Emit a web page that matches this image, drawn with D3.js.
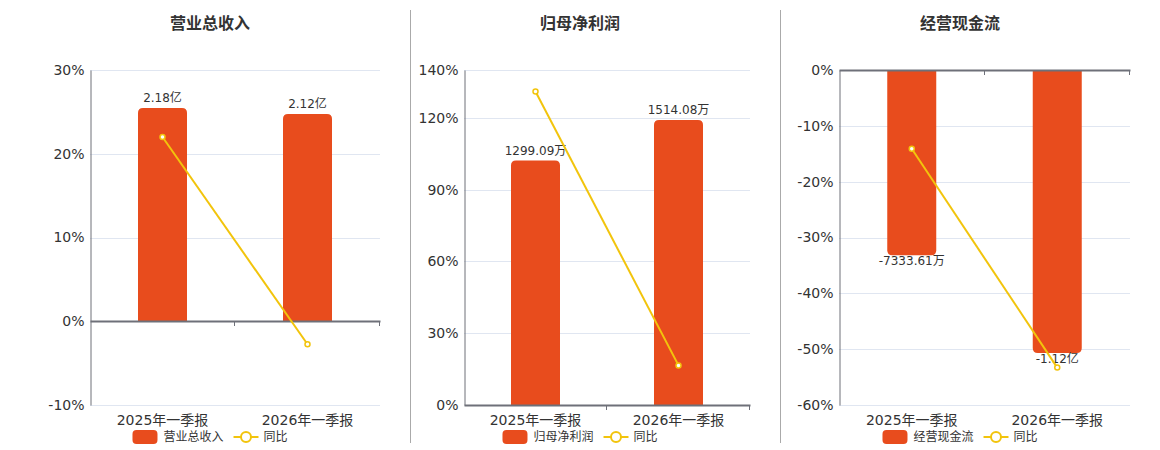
<!DOCTYPE html>
<html>
<head>
<meta charset="utf-8">
<title>季报对比</title>
<script src="https://d3js.org/d3.v7.min.js"></script>
<style>
  body { margin: 0; background: #fff; }
  svg text { font-family: "DejaVu Sans", "Noto Sans CJK SC", sans-serif; }
</style>
</head>
<body>
<div id="chart"></div>
<script>
// categories shared by all three panels
const categories = ["2025年一季报", "2026年一季报"];
const titles = ["营业总收入", "归母净利润", "经营现金流"];
const yoyName = "同比";

// bar values (营业总收入 in 亿, the others in 万) and their labels
const revenueBars = [2.18, 2.12];
const revenueLabels = ["2.18亿", "2.12亿"];
const profitBars = [1299.09, 1514.08];
const profitLabels = ["1299.09万", "1514.08万"];
const cashBars = [-7333.61, -11200];
const cashLabels = ["-7333.61万", "-1.12亿"];

// year-on-year change, percent
const revenueYoy = [22, -2.75];
const profitYoy = [131, 16.55];
const cashYoy = [-14.1, -53.3];

// percent axis ticks
const revenueTicks = [-10, 0, 10, 20, 30];
const profitTicks = [0, 30, 60, 90, 120, 140];
const cashTicks = [-60, -50, -40, -30, -20, -10, 0];

// hidden bar axis ranges (same units as bars)
const revenueBarDomain = [-0.856, 2.569];
const profitBarDomain = [0, 1780];
const cashBarDomain = [-13258, 0];

const W = 1160, H = 450;
const barColor = "#e84c1d";
const lineColor = "#f2c40c";
const textColor = "#333";
const axisColor = "#6e7079";
const gridColor = "#e0e6f1";

const panels = [
  {title: titles[0], bars: revenueBars, labels: revenueLabels, yoy: revenueYoy,
   ticks: revenueTicks, barDomain: revenueBarDomain, left: 90, right: 380, center: 210},
  {title: titles[1], bars: profitBars, labels: profitLabels, yoy: profitYoy,
   ticks: profitTicks, barDomain: profitBarDomain, left: 464, right: 750, center: 580},
  {title: titles[2], bars: cashBars, labels: cashLabels, yoy: cashYoy,
   ticks: cashTicks, barDomain: cashBarDomain, left: 839, right: 1130, center: 960}
];
const plotTop = 70, plotBottom = 405, barW = 49, rad = 5;

const svg = d3.select("#chart").append("svg")
    .attr("width", W).attr("height", H);

// separators between panels
[410.5, 780.5].forEach(x => {
  svg.append("line")
      .attr("x1", x).attr("x2", x).attr("y1", 10).attr("y2", 443)
      .attr("stroke", "#aaa").attr("stroke-width", 1);
});

// bar path with rounded far end
function barPath(x, y0, y1, w, r) {
  const up = y1 < y0;
  const h = Math.abs(y1 - y0);
  r = Math.min(r, h / 2, w / 2);
  const s = up ? -1 : 1;
  return "M" + x + "," + y0 +
    "L" + x + "," + (y1 - s * r) +
    "Q" + x + "," + y1 + " " + (x + r) + "," + y1 +
    "L" + (x + w - r) + "," + y1 +
    "Q" + (x + w) + "," + y1 + " " + (x + w) + "," + (y1 - s * r) +
    "L" + (x + w) + "," + y0 + "Z";
}

panels.forEach(p => {
  const g = svg.append("g");

  const x = d3.scaleBand().domain(categories).range([p.left, p.right]);
  const y = d3.scaleLinear().domain(d3.extent(p.ticks)).range([plotBottom, plotTop]);
  const yb = d3.scaleLinear().domain(p.barDomain).range([plotBottom, plotTop]);

  // title
  g.append("text")
      .attr("x", p.center).attr("y", 29)
      .attr("text-anchor", "middle")
      .attr("font-size", "16px").attr("font-weight", "bold")
      .attr("fill", textColor)
      .text(p.title);

  // grid
  g.selectAll(".grid").data(p.ticks.filter(t => t !== 0)).enter()
    .append("line")
      .attr("x1", p.left).attr("x2", p.right)
      .attr("y1", d => Math.round(y(d)) + 0.5).attr("y2", d => Math.round(y(d)) + 0.5)
      .attr("stroke", gridColor);

  // y axis
  const yAxis = d3.axisLeft(y).tickValues(p.ticks).tickSize(0).tickPadding(6)
      .tickFormat(d => d + "%");
  const ya = g.append("g").attr("transform", "translate(" + (p.left + 0.5) + ",0)").call(yAxis);
  ya.select(".domain").attr("stroke", axisColor);
  ya.selectAll("text").attr("font-size", "14px").attr("fill", textColor)
      .attr("font-family", "DejaVu Sans, Noto Sans CJK SC, sans-serif");

  // bars
  g.selectAll(".bar").data(p.bars).enter()
    .append("path")
      .attr("fill", barColor)
      .attr("d", (d, i) => barPath(x(categories[i]) + x.bandwidth() / 2 - barW / 2,
                                   yb(0), yb(d), barW, rad));

  // x axis at zero
  const y0 = Math.round(y(0));
  const xAxis = d3.axisBottom(x).tickSize(0).tickFormat("");
  const xa = g.append("g").attr("transform", "translate(0," + y0 + ")").call(xAxis);
  xa.select(".domain").attr("stroke", axisColor).attr("stroke-width", 2);
  // boundary ticks between categories
  g.selectAll(".xt").data([x.bandwidth(), 2 * x.bandwidth()]).enter()
    .append("line")
      .attr("x1", d => Math.round(p.left + d) - 0.5).attr("x2", d => Math.round(p.left + d) - 0.5)
      .attr("y1", y0).attr("y2", y0 + 5)
      .attr("stroke", axisColor);

  // category labels
  g.selectAll(".cat").data(categories).enter()
    .append("text")
      .attr("x", d => x(d) + x.bandwidth() / 2)
      .attr("y", 425)
      .attr("text-anchor", "middle")
      .attr("font-size", "14px").attr("fill", textColor)
      .text(d => d);

  // bar labels
  g.selectAll(".lbl").data(p.bars).enter()
    .append("text")
      .attr("x", (d, i) => x(categories[i]) + x.bandwidth() / 2)
      .attr("y", d => d >= 0 ? yb(d) - 6 : yb(d) + 10)
      .attr("text-anchor", "middle")
      .attr("font-size", "12px").attr("fill", textColor)
      .text((d, i) => p.labels[i]);

  // yoy line
  const line = d3.line()
      .x((d, i) => x(categories[i]) + x.bandwidth() / 2)
      .y(d => y(d));
  g.append("path").datum(p.yoy)
      .attr("d", line)
      .attr("fill", "none").attr("stroke", lineColor).attr("stroke-width", 2);
  g.selectAll(".pt").data(p.yoy).enter()
    .append("circle")
      .attr("cx", (d, i) => x(categories[i]) + x.bandwidth() / 2)
      .attr("cy", d => y(d))
      .attr("r", 2.5)
      .attr("fill", "#fff").attr("stroke", lineColor).attr("stroke-width", 1.5);

  // legend
  const lg = g.append("g");
  lg.append("rect").attr("x", 0).attr("y", 430).attr("width", 25).attr("height", 14)
      .attr("rx", 4).attr("fill", barColor);
  const t1 = lg.append("text").attr("x", 31).attr("y", 441)
      .attr("font-size", "12px").attr("fill", textColor).text(p.title);
  const w1 = t1.node().getComputedTextLength();
  const lx = 31 + w1 + 10;
  lg.append("line").attr("x1", lx).attr("x2", lx + 25).attr("y1", 437).attr("y2", 437)
      .attr("stroke", lineColor).attr("stroke-width", 2);
  lg.append("circle").attr("cx", lx + 12.5).attr("cy", 437).attr("r", 5)
      .attr("fill", "#fff").attr("stroke", lineColor).attr("stroke-width", 2);
  const t2 = lg.append("text").attr("x", lx + 30).attr("y", 441)
      .attr("font-size", "12px").attr("fill", textColor).text(yoyName);
  const total = lx + 30 + t2.node().getComputedTextLength();
  lg.attr("transform", "translate(" + (p.center - total / 2) + ",0)");
});
</script>
</body>
</html>
